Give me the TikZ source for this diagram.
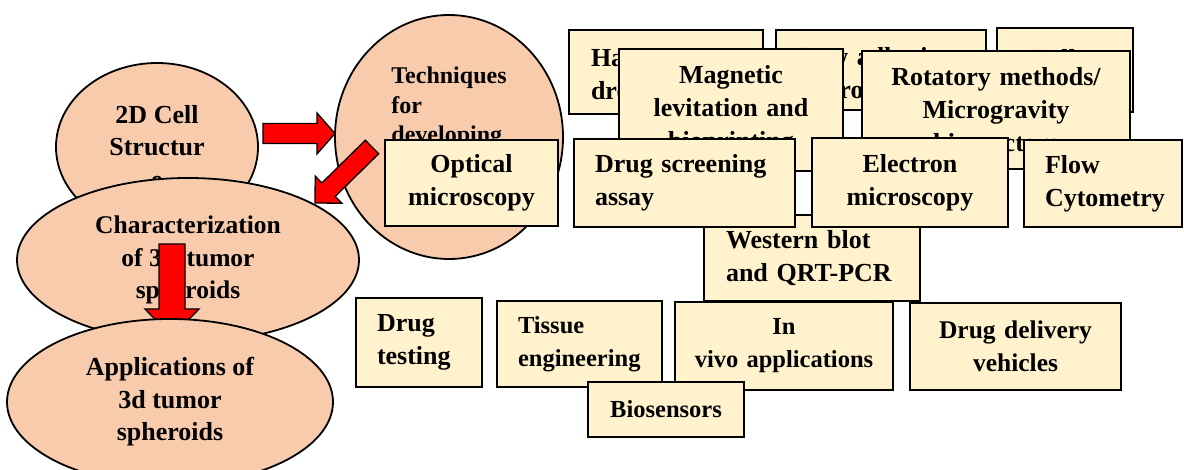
\documentclass[tikz,border=0pt]{standalone}
\usepackage{fontspec}
\setmainfont{Liberation Serif}
\usetikzlibrary{calc,shapes.geometric}
\lefthyphenmin=62
\hyphenpenalty=10000
\definecolor{peach}{HTML}{F8CBAD}
\definecolor{cream}{HTML}{FFF2CC}

% block arrow from tail #1 to tip #2: shaft half width #3, head half width #4, head length #5
\newcommand\blockarrow[5]{%
  \coordinate (#1base) at ($(#2)!#5!(#1)$);
  \draw[arrowfill] ($(#1)!#3!90:(#2)$) -- ($(#1base)!#3!90:(#2)$)
    -- ($(#1base)!#4!90:(#2)$) -- (#2) -- ($(#1base)!#4!-90:(#2)$)
    -- ($(#1base)!#3!-90:(#2)$) -- ($(#1)!#3!-90:(#2)$) -- cycle;}
% taller first line, pushes a text block a little lower in its box
\newcommand\tallstrut[1]{\rule{0pt}{#1}}

\begin{document}
\begin{tikzpicture}[x=1pt,y=-1pt,
  ell/.style={ellipse, draw=black, line width=1.8pt, fill=peach, inner sep=0pt,
    align=center, font=\fontsize{26}{32.5}\selectfont\bfseries},
  box/.style={rectangle, draw=black, line width=2.6pt, fill=cream, inner ysep=0pt,
    font=\fontsize{26}{33}\selectfont\bfseries},
  cbox/.style={box, align=center, inner xsep=10pt},
  lbox/.style={box, align=left},
  arrowfill/.style={draw=black, fill=red, line width=1.3pt, line join=miter}]
\useasboundingbox (0,0) rectangle (1184,470);

% left column of ellipses
\node[ell, minimum width=202pt, minimum height=168pt] (cell2d) at (157,147)
  {2D Cell\\Structur\\e};
\node[ell, align=left, minimum width=228pt, minimum height=244pt,
  font=\fontsize{24}{29.5}\selectfont\bfseries] (tech) at (449,137)
  {Techniques\\for\\developing\\3D tumor\\spheroids};
\node[ell, minimum width=342pt, minimum height=164pt,
  font=\fontsize{25.5}{32.5}\selectfont\bfseries] (charac) at (188,260)
  {Characterization\\of 3D tumor\\spheroids};

% red block arrows
\coordinate (raTail) at (263,133.5);
\coordinate (raTip) at (335,133.5);
\blockarrow{raTail}{raTip}{10pt}{20.5pt}{18pt}
\coordinate (daTail) at (372,147);
\coordinate (daTip) at (315,203);
\blockarrow{daTail}{daTip}{9.5pt}{19pt}{19pt}
\coordinate (vaTail) at (172,244);
\coordinate (vaTip) at (172,337);
\blockarrow{vaTail}{vaTip}{13pt}{27pt}{28pt}

\node[ell, minimum width=326pt, minimum height=166pt] (applic) at (170,402)
  {Applications of\\3d tumor\\spheroids};

% techniques for developing spheroids
\node[lbox, text width=150pt, inner xsep=22pt, minimum height=84pt] (hang) at (666,72)
  {\mbox{\tallstrut{28pt}Hanging}\\\mbox{drop method}};
\node[lbox, text width=164pt, inner xsep=23pt, minimum height=80pt] (lowad) at (881,70)
  {\mbox{\tallstrut{30pt}Low adhesion}\\\mbox{microplates}};
\node[cbox, text width=116pt, minimum height=84pt] (pellet) at (1065,70)
  {\tallstrut{28pt}Pellet\\culture};
\node[cbox, text width=204pt, minimum height=122pt] (magnet) at (731,110)
  {Magnetic\\levitation and\\bioprinting};
\node[cbox, text width=248pt, minimum height=118pt] (rotary) at (996,110)
  {Rotatory methods/\\Microgravity\\bioreactors};

% characterization methods
\node[lbox, text width=172pt, inner xsep=22pt, minimum height=86pt] (western) at (812,258)
  {\mbox{Western blot}\\\mbox{and QRT-PCR}};
\node[lbox, text width=179pt, inner xsep=21pt, minimum height=88pt] (screen) at (684.5,183)
  {\mbox{Drug screening}\\\mbox{assay}};
\node[cbox, text width=176pt, minimum height=89pt] (electron) at (910,182.5)
  {Electron\\microscopy};
\node[lbox, text width=116pt, inner xsep=21pt, minimum height=87pt] (flow) at (1103,183.5)
  {\mbox{Flow}\\\mbox{Cytometry}};
\node[cbox, text width=153pt, minimum height=86pt] (optical) at (471.5,183)
  {Optical\\microscopy};

% applications
\node[lbox, text width=84pt, inner xsep=21pt, minimum height=89pt] (drugtest) at (419,342.5)
  {\mbox{Drug}\\\mbox{testing}};
\node[lbox, text width=123pt, inner xsep=21pt, minimum height=86pt,
  font=\fontsize{24.5}{33}\selectfont\bfseries] (tissue) at (579.5,344)
  {\mbox{Tissue}\\\mbox{engineering}};
\node[cbox, text width=198pt, minimum height=88pt,
  font=\fontsize{24.5}{33}\selectfont\bfseries] (invivo) at (784,346)
  {In\\vivo applications};
\node[cbox, text width=191pt, minimum height=87pt,
  font=\fontsize{25.5}{33}\selectfont\bfseries] (delivery) at (1015.5,346.5)
  {Drug delivery\\vehicles};
\node[cbox, text width=136pt, minimum height=55pt,
  font=\fontsize{24.5}{33}\selectfont\bfseries] (biosens) at (666,409.5)
  {Biosensors};
\end{tikzpicture}
\end{document}
